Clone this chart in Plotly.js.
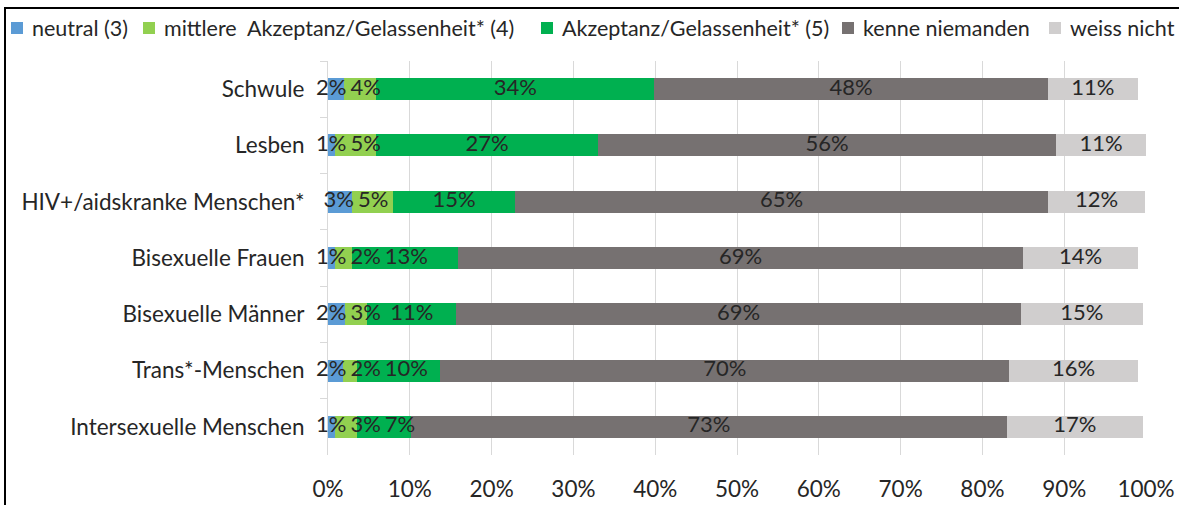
<!DOCTYPE html>
<html>
<head>
<meta charset="utf-8">
<script src="https://cdn.plot.ly/plotly-3.0.1.min.js"></script>
<style>
html,body{margin:0;padding:0;width:1179px;height:505px;overflow:hidden;background:#fff;}
#frame{position:absolute;left:4px;top:7px;border-top:2px solid #000;border-left:2px solid #000;width:1175px;height:498px;}
#chart{width:1173px;height:496px;}
</style>
</head>
<body>
<div id="frame"><div id="chart"></div></div>
<script>
// ---- data ----
const categories = ["Schwule", "Lesben", "HIV+/aidskranke Menschen*", "Bisexuelle Frauen", "Bisexuelle Männer", "Trans*-Menschen", "Intersexuelle Menschen"];
const seriesNames = ["neutral (3)", "mittlere  Akzeptanz/Gelassenheit* (4)", "Akzeptanz/Gelassenheit* (5)", "kenne niemanden", "weiss nicht"];
const neutral   = [1.9, 0.9, 2.9, 0.9, 2.1, 1.8, 0.8];
const mittlere  = [4.0, 5.0, 5.0, 2.0, 2.7, 1.7, 2.7];
const akzeptanz = [34.0, 27.1, 15.0, 13.0, 10.9, 10.2, 6.6];
const kenne     = [48.1, 56.0, 65.1, 69.1, 69.0, 69.6, 72.9];
const weiss     = [11.0, 11.0, 11.9, 14.0, 14.9, 15.7, 16.6];
const xTicks = [0, 10, 20, 30, 40, 50, 60, 70, 80, 90, 100];

// ---- style ----
const colors = ["#5B9BD5", "#92D050", "#00B050", "#767171", "#D0CECE"];
const FONT = "Lato, 'Liberation Sans', sans-serif";
const TXT = "#262626";
const FS = 22.5;
const LBL_FS = 22;
const LEG_FS = 21.5;

const W = 1173, H = 496;
const EXTRA = 40;                       // label room left of the value axis
const M = {l: 322 - EXTRA, r: 33, t: 52, b: 50};
const FULLW = W - M.l - M.r;            // label axis width
const PW = FULLW - EXTRA;               // value axis width
const PH = H - M.t - M.b;
const XMAX = 100;
const pxPerUnit = PW / XMAX;
const px2x = px => (px - M.l) / FULLW;  // paper coords (full area)
const py2y = py => (M.t + PH - py) / PH;

const seriesValues = [neutral, mittlere, akzeptanz, kenne, weiss];

function build() {
  const traces = seriesValues.map((vals, i) => ({
    type: "bar",
    orientation: "h",
    name: seriesNames[i],
    y: categories,
    x: vals,
    xaxis: "x", yaxis: "y",
    marker: {color: colors[i], line: {width: 0}},
    hoverinfo: "skip",
    showlegend: false
  }));

  const labels = seriesValues.map(vals => vals.map(v => Math.round(v) + "%"));

  const ctx = document.createElement("canvas").getContext("2d");
  ctx.font = LBL_FS + "px Lato";
  const GAP = 4;                          // px between neighbouring labels
  const MINLEFT = -14 / pxPerUnit;        // how far a label group may reach left of 0

  // label positions: segment centres, nudged apart where they would collide (like Excel)
  const labelX = seriesValues.map(() => categories.map(() => 0));
  categories.forEach((c, j) => {
    let acc = 0;
    const items = seriesValues.map((vals, i) => {
      const centre = acc + vals[j] / 2;
      acc += vals[j];
      const w = (ctx.measureText(labels[i][j]).width + GAP) / pxPerUnit;
      return {i, centre, w};
    });
    const clusters = [];
    const place = cl => Math.max(cl.centre, MINLEFT + cl.width / 2);
    items.forEach(it => {
      clusters.push({items: [it], centre: it.centre, width: it.w});
      while (clusters.length > 1) {
        const b = clusters[clusters.length - 1], a = clusters[clusters.length - 2];
        if (place(a) + a.width / 2 > place(b) - b.width / 2) {
          const all = a.items.concat(b.items);
          const centre = all.reduce((s, q) => s + q.centre, 0) / all.length;
          const width = all.reduce((s, q) => s + q.w, 0);
          clusters.splice(clusters.length - 2, 2, {items: all, centre, width});
        } else break;
      }
    });
    clusters.forEach(cl => {
      let x = place(cl) - cl.width / 2;
      cl.items.forEach(q => { labelX[q.i][j] = x + q.w / 2; x += q.w; });
    });
  });

  seriesValues.forEach((vals, i) => {
    traces.push({
      type: "scatter",
      mode: "text",
      y: categories,
      x: labelX[i],
      xaxis: "x2", yaxis: "y",
      text: labels[i],
      textposition: "middle center",
      textfont: {family: FONT, size: LBL_FS, color: TXT},
      cliponaxis: false,
      hoverinfo: "skip",
      showlegend: false
    });
  });

  // custom legend (Excel-like compact spacing)
  const legendTextX = [24, 156, 554, 855, 1062];
  const legendY = 19;
  const shapes = [];
  const annotations = [];
  seriesNames.forEach((n, i) => {
    const tx = legendTextX[i];
    shapes.push({
      type: "rect", xref: "paper", yref: "paper",
      x0: px2x(tx - 19), x1: px2x(tx - 7),
      y0: py2y(legendY + 6), y1: py2y(legendY - 6),
      fillcolor: colors[i], line: {width: 0}
    });
    annotations.push({
      xref: "paper", yref: "paper", x: px2x(tx), y: py2y(legendY),
      xanchor: "left", yanchor: "middle", showarrow: false,
      text: n, font: {family: FONT, size: LEG_FS, color: TXT}
    });
  });

  const layout = {
    width: W, height: H,
    margin: M,
    barmode: "stack",
    bargap: 0.61,
    paper_bgcolor: "#fff",
    plot_bgcolor: "rgba(0,0,0,0)",
    showlegend: false,
    font: {family: FONT, size: FS, color: TXT},
    xaxis: {
      domain: [EXTRA / FULLW, 1],
      anchor: "y",
      range: [0, XMAX],
      tickvals: xTicks,
      ticktext: xTicks.map(v => v + "%"),
      showgrid: true, gridcolor: "#D9D9D9", gridwidth: 1,
      zeroline: false, showline: false,
      ticks: "",
      ticklabelstandoff: 18,
      tickfont: {family: FONT, size: FS, color: TXT},
      fixedrange: true
    },
    xaxis2: {
      domain: [0, 1],
      anchor: "y",
      range: [-EXTRA / pxPerUnit, XMAX],
      visible: false,
      showgrid: false, zeroline: false,
      fixedrange: true
    },
    yaxis: {
      type: "category",
      anchor: "x",
      autorange: "reversed",
      showgrid: false, zeroline: false,
      showline: true, linecolor: "#D9D9D9", linewidth: 1,
      ticks: "outside", tickson: "boundaries", ticklen: 7, tickcolor: "#D9D9D9",
      ticklabelstandoff: 18,
      tickfont: {family: FONT, size: FS, color: TXT},
      fixedrange: true
    },
    shapes: shapes,
    annotations: annotations
  };

  Plotly.newPlot("chart", traces, layout, {displayModeBar: false, staticPlot: true});
}

const ready = (document.fonts && document.fonts.load) ? document.fonts.load(LBL_FS + "px Lato").catch(() => null) : Promise.resolve();
ready.then(build, build);
</script>
</body>
</html>
